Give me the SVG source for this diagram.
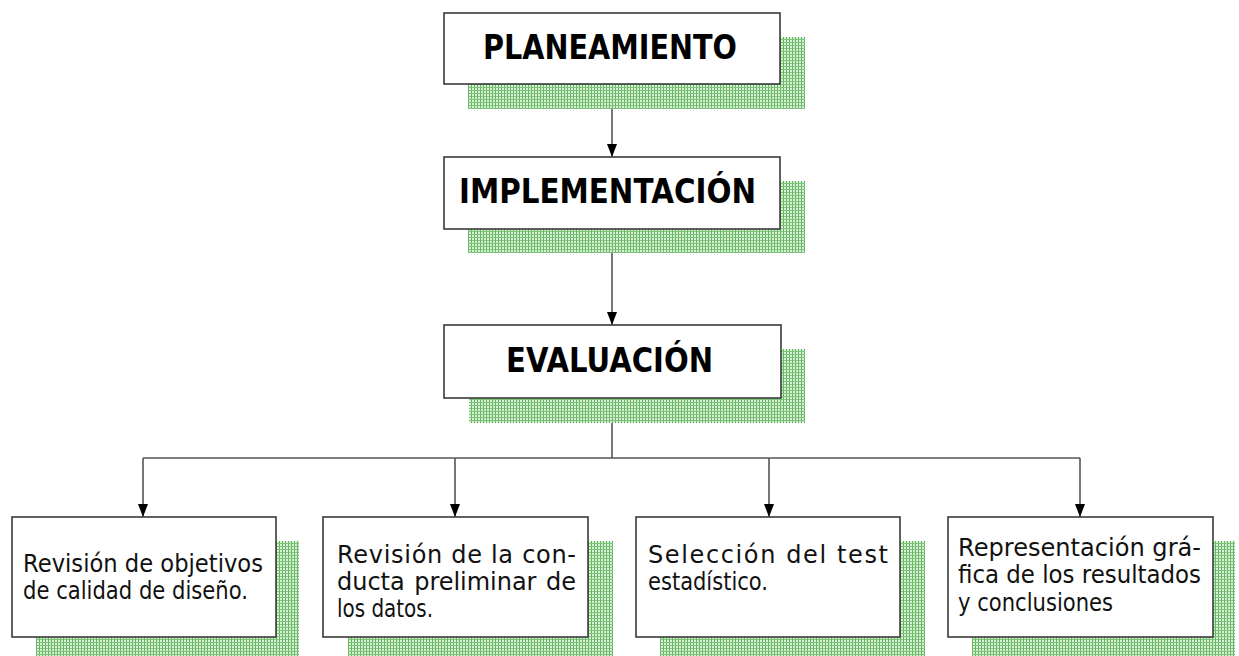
<svg xmlns="http://www.w3.org/2000/svg" width="1239" height="656" viewBox="0 0 1239 656">
<style>
.box{fill:#fff;stroke:#3a3a3a;stroke-width:1.6}
.sh{fill:url(#grid)}
.title{font-family:"DejaVu Sans",Verdana,sans-serif;font-weight:bold;font-size:33px;fill:#000;text-anchor:middle}
.t{font-family:"DejaVu Sans",Verdana,sans-serif;font-size:24px;fill:#111}
.ln{fill:none;stroke:#555;stroke-width:1.6}
</style>
<defs>
<pattern id="grid" width="3" height="3" patternUnits="userSpaceOnUse">
<rect width="3" height="3" fill="#dcf0d9"/>
<rect x="0" y="0" width="1" height="3" fill="#5cb359"/>
<rect x="0" y="0" width="3" height="1" fill="#7cc279"/>
</pattern>
<marker id="arr" markerUnits="userSpaceOnUse" markerWidth="13" markerHeight="10" refX="13" refY="5" orient="auto" viewBox="0 0 13 10">
<path d="M0,0 L13,5 L0,10 Z" fill="#000"/>
</marker>
</defs>
<g id="connectors">
<line class="ln" x1="612" y1="84" x2="612" y2="157" marker-end="url(#arr)"/>
<line class="ln" x1="612" y1="229" x2="612" y2="325" marker-end="url(#arr)"/>
<line class="ln" x1="612" y1="398" x2="612" y2="458"/>
<line class="ln" x1="143" y1="458" x2="1080" y2="458"/>
<line class="ln" x1="143" y1="458" x2="143" y2="517" marker-end="url(#arr)"/>
<line class="ln" x1="455" y1="458" x2="455" y2="517" marker-end="url(#arr)"/>
<line class="ln" x1="769" y1="458" x2="769" y2="517" marker-end="url(#arr)"/>
<line class="ln" x1="1080" y1="458" x2="1080" y2="517" marker-end="url(#arr)"/>
</g>
<g id="planeamiento">
<rect class="sh" x="468" y="37" width="337" height="72"/>
<rect class="box" x="444" y="13" width="336" height="71"/>
<text class="title" x="610" y="59" textLength="254" lengthAdjust="spacingAndGlyphs">PLANEAMIENTO</text>
</g>
<g id="implementacion">
<rect class="sh" x="468" y="181" width="337" height="72"/>
<rect class="box" x="444" y="157" width="336" height="72"/>
<text class="title" x="607.5" y="203" textLength="297" lengthAdjust="spacingAndGlyphs">IMPLEMENTACIÓN</text>
</g>
<g id="evaluacion">
<rect class="sh" x="469" y="349" width="336" height="74"/>
<rect class="box" x="444" y="325" width="337" height="73"/>
<text class="title" x="609.5" y="372" textLength="207" lengthAdjust="spacingAndGlyphs">EVALUACIÓN</text>
</g>
<g id="revision-objetivos">
<rect class="sh" x="36" y="541" width="263" height="120"/>
<rect class="box" x="12" y="517" width="264" height="120"/>
<text class="t" x="23" y="572" textLength="240" lengthAdjust="spacingAndGlyphs">Revisión de objetivos</text>
<text class="t" x="23" y="599" textLength="225" lengthAdjust="spacingAndGlyphs">de calidad de diseño.</text>
</g>
<g id="revision-conducta">
<rect class="sh" x="348" y="541" width="265" height="120"/>
<rect class="box" x="323" y="517" width="265" height="120"/>
<text class="t" x="337" y="563" textLength="239" lengthAdjust="spacing">Revisión de la con-</text>
<text class="t" x="337" y="590" textLength="239" lengthAdjust="spacing" word-spacing="2">ducta preliminar de</text>
<text class="t" x="337" y="617" textLength="96" lengthAdjust="spacingAndGlyphs">los datos.</text>
</g>
<g id="seleccion-test">
<rect class="sh" x="660" y="541" width="265" height="120"/>
<rect class="box" x="636" y="517" width="264" height="120"/>
<text class="t" x="648" y="563" textLength="240" lengthAdjust="spacing">Selección del test</text>
<text class="t" x="648" y="590" textLength="120" lengthAdjust="spacingAndGlyphs">estadístico.</text>
</g>
<g id="representacion">
<rect class="sh" x="972" y="541" width="263" height="120"/>
<rect class="box" x="948" y="517" width="265" height="120"/>
<text class="t" x="958" y="556" textLength="243" lengthAdjust="spacingAndGlyphs">Representación grá-</text>
<text class="t" x="958" y="583" textLength="243" lengthAdjust="spacingAndGlyphs">fica de los resultados</text>
<text class="t" x="958" y="611" textLength="155" lengthAdjust="spacingAndGlyphs">y conclusiones</text>
</g>
</svg>
